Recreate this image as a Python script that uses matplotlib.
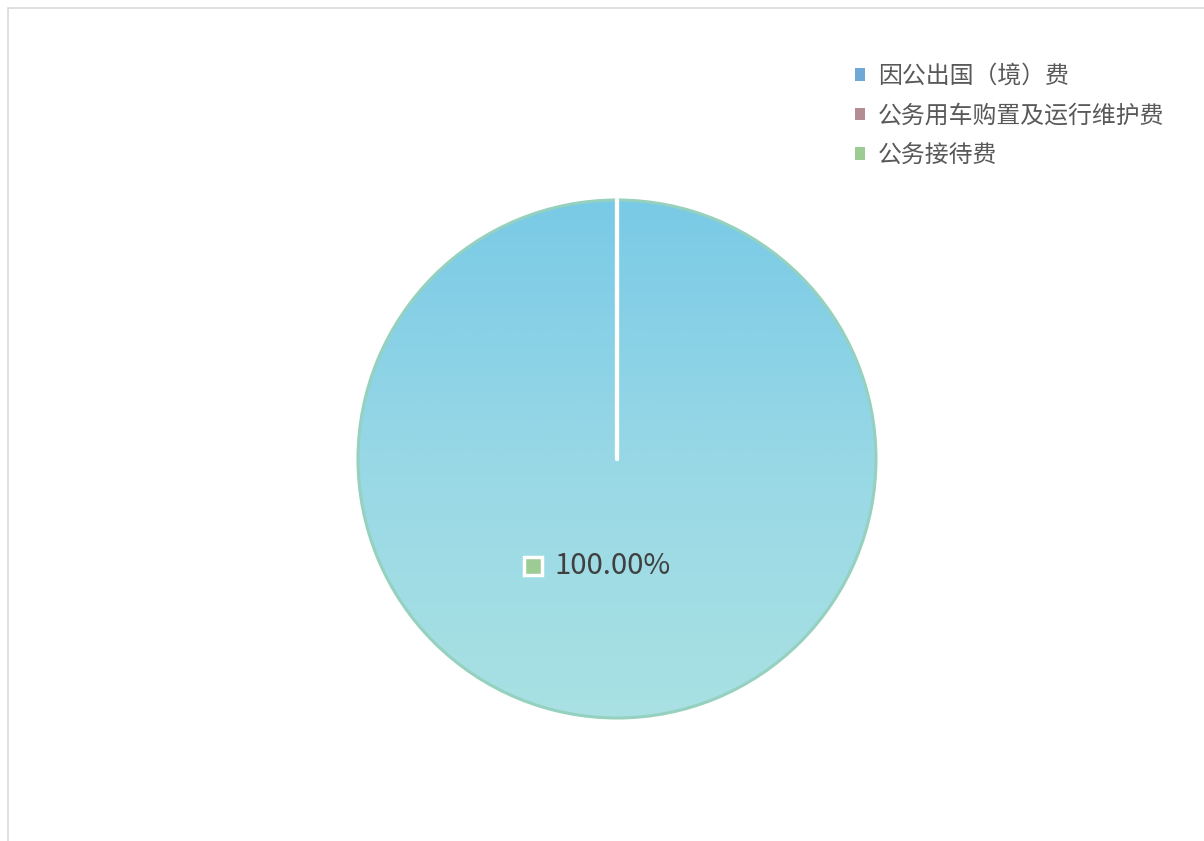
import matplotlib
matplotlib.use("Agg")
import matplotlib.pyplot as plt
import numpy as np
from matplotlib.colors import LinearSegmentedColormap
from matplotlib.patches import Patch, Rectangle

plt.rcParams['font.family'] = ['Noto Sans CJK SC', 'DejaVu Sans']

categories = ["因公出国（境）费", "公务用车购置及运行维护费", "公务接待费"]
values = [0, 0, 100]
legend_colors = ["#6FA8D6", "#B38D93", "#9CCB93"]

W, H = 1204, 841
fig = plt.figure(figsize=(W / 100, H / 100), dpi=100)
ax = fig.add_axes([0, 0, 1, 1])

cx, cy, r = 617, H - 459, 259


def pct_fmt(p):
    return "%.2f%%" % p if p > 0 else ""


wedges, texts, autotexts = ax.pie(
    values, colors=legend_colors, startangle=90, counterclock=False,
    center=(cx, cy), radius=r, autopct=pct_fmt, pctdistance=0.415,
    textprops=dict(fontsize=21, color="#404040"),
)

# gradient fill for the full slice
grad = LinearSegmentedColormap.from_list("g", ["#79CAE6", "#98D8E6", "#A9E1E3"])
img = ax.imshow(np.linspace(0, 1, 256).reshape(-1, 1), cmap=grad, aspect="auto",
                extent=[cx - r, cx + r, cy - r, cy + r], origin="upper", zorder=2)
for w, v in zip(wedges, values):
    if v > 0:
        w.set_facecolor("none")
        w.set_edgecolor("#95D1BE")
        w.set_linewidth(2.2)
        w.set_zorder(3)
        img.set_clip_path(w)
    else:
        w.set_facecolor("none")
        w.set_edgecolor("white")
        w.set_linewidth(3)
        w.set_capstyle("round")
        w.set_zorder(4)

for t, v in zip(autotexts, values):
    if v > 0:
        t.set_zorder(5)
        tx, ty = t.get_position()
        ax.plot(tx - 84, ty, marker="s", ms=13, mfc=legend_colors[2], mec="white",
                mew=2.5, zorder=5)
        t.set_position((tx - 4, ty))

ax.set_xlim(0, W)
ax.set_ylim(0, H)
ax.set_aspect("equal")
ax.axis("off")

handles = [Patch(facecolor=c, edgecolor="none") for c in legend_colors]
leg = fig.legend(handles, categories, loc="upper left", bbox_to_anchor=(855 / W, 1 - 65 / H),
                 frameon=False, fontsize=17.2, handlelength=0.42, handleheight=0.42,
                 handletextpad=0.55, labelspacing=0.69, borderpad=0, borderaxespad=0)
for t in leg.get_texts():
    t.set_color("#595959")

fig.patches.append(Rectangle((8 / W, -0.1), 1.2, 1 + 0.1 - 8 / H, transform=fig.transFigure,
                             fill=False, edgecolor="#D9D9D9", linewidth=1.2))

fig.savefig("out.png", dpi=100)
